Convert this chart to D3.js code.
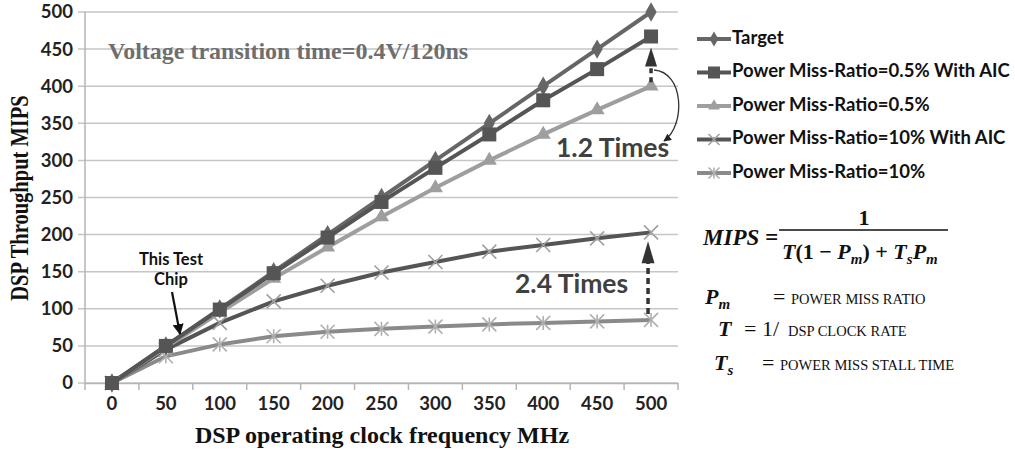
<!DOCTYPE html>
<html>
<head>
<meta charset="utf-8">
<script src="https://cdn.jsdelivr.net/npm/d3@7"></script>
<style>
  body { margin: 0; background: #fff; }
  svg { display: block; }
</style>
</head>
<body>
<div id="chart"></div>
<script>
// clock frequency categories (MHz)
var freqs = [0, 50, 100, 150, 200, 250, 300, 350, 400, 450, 500];
var yTicks = [0, 50, 100, 150, 200, 250, 300, 350, 400, 450, 500];

// throughput values (MIPS)
var target      = [0, 50, 100, 150, 200, 250, 300, 350, 400, 450, 500];
var pm05AIC     = [0, 50, 99, 148, 196, 244, 290, 335, 381, 423, 467];
var pm05        = [0, 48, 95, 141, 183, 224, 263, 300, 335, 368, 400];
var pm10AIC     = [0, 45, 81, 110, 131, 149, 163, 177, 186, 195, 203];
var pm10        = [0, 36, 52, 63, 69, 73, 76, 79, 81, 83, 85];

var seriesNames = ["Target", "Power Miss-Ratio=0.5% With AIC", "Power Miss-Ratio=0.5%",
                   "Power Miss-Ratio=10% With AIC", "Power Miss-Ratio=10%"];
var seriesData = [target, pm05AIC, pm05, pm10AIC, pm10];
var lineColors = ["#666666", "#555555", "#9e9e9e", "#555555", "#8a8a8a"];
var markColors = ["#666666", "#555555", "#9e9e9e", "#a0a0a0", "#b0b0b0"];
var markTypes  = ["diamond", "square", "triangle", "x", "star"];

var W = 1015, H = 451;
var pLeft = 85, pRight = 678, pTop = 12, pBottom = 383;

var svg = d3.select("#chart").append("svg")
  .attr("width", W).attr("height", H);

var x = d3.scaleBand().domain(freqs).range([pLeft, pRight]);
var y = d3.scaleLinear().domain([0, 500]).range([pBottom, pTop]);
var cx = function(d) { return x(d) + x.bandwidth() / 2; };

// gridlines
svg.append("g").selectAll("line")
  .data(yTicks).enter().append("line")
  .attr("x1", pLeft - 7).attr("x2", pRight)
  .attr("y1", function(d) { return y(d); })
  .attr("y2", function(d) { return y(d); })
  .attr("stroke", "#c6c6c6").attr("stroke-width", 1.5);

// y axis
var yAxis = d3.axisLeft(y).tickValues(yTicks).tickSize(0).tickPadding(12);
var gy = svg.append("g").attr("transform", "translate(" + pLeft + ",0)").call(yAxis);
gy.select(".domain").remove();
gy.selectAll("text")
  .style("font-family", "Lato, sans-serif").style("font-weight", "bold")
  .style("font-size", "18.5px").attr("fill", "#222");
svg.append("line").attr("x1", pLeft).attr("x2", pLeft)
  .attr("y1", pTop).attr("y2", pBottom)
  .attr("stroke", "#b5b5b5").attr("stroke-width", 1.5);

// x axis
var xAxis = d3.axisBottom(x).tickSize(0).tickPadding(14);
var gx = svg.append("g").attr("transform", "translate(0," + pBottom + ")").call(xAxis);
gx.select(".domain").attr("stroke", "#b5b5b5").attr("stroke-width", 1.5);
gx.selectAll("text")
  .style("font-family", "Lato, sans-serif").style("font-weight", "bold")
  .style("font-size", "18.5px").attr("fill", "#222");
// boundary ticks between categories
svg.append("g").selectAll("line")
  .data(freqs.concat(["end"])).enter().append("line")
  .attr("x1", function(d, i) { return pLeft + i * x.step(); })
  .attr("x2", function(d, i) { return pLeft + i * x.step(); })
  .attr("y1", pBottom).attr("y2", pBottom + 7)
  .attr("stroke", "#b5b5b5").attr("stroke-width", 1.5);

// axis titles
svg.append("text")
  .attr("transform", "translate(22,198) rotate(-90) scale(0.82,1)")
  .attr("text-anchor", "middle").attr("dominant-baseline", "middle")
  .style("font-family", "'Liberation Serif', serif").style("font-weight", "bold")
  .style("font-size", "25px").attr("fill", "#111")
  .text("DSP Throughput MIPS");
svg.append("text")
  .attr("x", 382).attr("y", 443)
  .attr("text-anchor", "middle")
  .style("font-family", "'Liberation Serif', serif").style("font-weight", "bold")
  .style("font-size", "24px").attr("fill", "#111")
  .text("DSP operating clock frequency MHz");

// marker drawing
function marker(g, type, color, px, py, s) {
  if (type === "diamond") {
    g.append("path").attr("d", d3.symbol().type(d3.symbolDiamond).size(s * s * 0.55)())
      .attr("transform", "translate(" + px + "," + py + ")").attr("fill", color);
  } else if (type === "square") {
    g.append("rect").attr("x", px - s / 2).attr("y", py - s / 2)
      .attr("width", s).attr("height", s).attr("fill", color);
  } else if (type === "triangle") {
    g.append("path").attr("d", d3.symbol().type(d3.symbolTriangle).size(s * s * 0.5)())
      .attr("transform", "translate(" + px + "," + py + ")").attr("fill", color);
  } else {
    var h = s / 2;
    var p = "M" + (px - h) + "," + (py - h) + "L" + (px + h) + "," + (py + h) +
            "M" + (px - h) + "," + (py + h) + "L" + (px + h) + "," + (py - h);
    if (type === "star") p += "M" + px + "," + (py - h) + "L" + px + "," + (py + h);
    g.append("path").attr("d", p).attr("stroke", color).attr("stroke-width", 1.6).attr("fill", "none");
  }
}

var line = d3.line()
  .x(function(d, i) { return cx(freqs[i]); })
  .y(function(d) { return y(d); });

var order = [4, 3, 2, 0, 1];
order.forEach(function(k) {
  svg.append("path").datum(seriesData[k])
    .attr("d", line).attr("fill", "none")
    .attr("stroke", lineColors[k]).attr("stroke-width", 4);
});
order.forEach(function(k) {
  var g = svg.append("g");
  seriesData[k].forEach(function(v, i) {
    marker(g, markTypes[k], markColors[k], cx(freqs[i]), y(v), 14);
  });
});

// legend
var legend = svg.append("g");
seriesNames.forEach(function(name, k) {
  var ly = 39 + k * 33.5;
  legend.append("line").attr("x1", 697).attr("x2", 731).attr("y1", ly).attr("y2", ly)
    .attr("stroke", lineColors[k]).attr("stroke-width", 4);
  marker(legend, markTypes[k], markColors[k], 714, ly, k === 1 ? 12 : 11);
  legend.append("text").attr("x", 732).attr("y", ly)
    .attr("dominant-baseline", "middle")
    .style("font-family", "Lato, sans-serif").style("font-weight", "bold")
    .style("font-size", "18.5px").attr("fill", "#111").text(name);
});

// annotations
svg.append("text").attr("x", 108).attr("y", 59)
  .style("font-family", "'Liberation Serif', serif").style("font-weight", "bold")
  .style("font-size", "24px").attr("fill", "#6e6e6e")
  .text("Voltage transition time=0.4V/120ns");

var defs = svg.append("defs");
defs.append("marker").attr("id", "ah").attr("viewBox", "0 0 10 10")
  .attr("refX", 9).attr("refY", 5).attr("markerWidth", 5).attr("markerHeight", 5)
  .attr("orient", "auto")
  .append("path").attr("d", "M0,0L10,5L0,10Z").attr("fill", "#111");
defs.append("marker").attr("id", "ah2").attr("viewBox", "0 0 10 10")
  .attr("refX", 9).attr("refY", 5).attr("markerWidth", 6).attr("markerHeight", 6)
  .attr("orient", "auto")
  .append("path").attr("d", "M0,0L10,5L0,10Z").attr("fill", "#222");

var x500 = cx(500);
// 1.2 times dashed arrow
svg.append("line").attr("x1", x500).attr("x2", x500)
  .attr("y1", y(pm05[10]) - 4).attr("y2", y(pm05AIC[10]) + 30)
  .attr("stroke", "#333").attr("stroke-width", 3.5).attr("stroke-dasharray", "5,4");
svg.append("path")
  .attr("d", "M" + (x500 - 6) + "," + (y(pm05AIC[10]) + 30) + "L" + (x500 + 6) + "," + (y(pm05AIC[10]) + 30) +
             "L" + x500 + "," + (y(pm05AIC[10]) + 11) + "Z")
  .attr("fill", "#333");
svg.append("path").attr("d", "M654,70 C684,72 686,125 664,141")
  .attr("fill", "none").attr("stroke", "#333").attr("stroke-width", 1.3)
  .attr("marker-end", "url(#ah2)");
svg.append("text").attr("x", 556).attr("y", 157)
  .style("font-family", "Lato, sans-serif").style("font-weight", "bold")
  .style("font-size", "26.5px").attr("fill", "#404040").text("1.2 Times");

// 2.4 times dashed arrow
var ax = x500 - 3;
svg.append("line").attr("x1", ax).attr("x2", ax)
  .attr("y1", y(pm10[10]) - 6).attr("y2", y(pm10AIC[10]) + 30)
  .attr("stroke", "#333").attr("stroke-width", 3.5).attr("stroke-dasharray", "6,4");
svg.append("path")
  .attr("d", "M" + (ax - 6.5) + "," + (y(pm10AIC[10]) + 31) + "L" + (ax + 6.5) + "," + (y(pm10AIC[10]) + 31) +
             "L" + ax + "," + (y(pm10AIC[10]) + 9) + "Z")
  .attr("fill", "#333");
svg.append("text").attr("x", 515).attr("y", 293)
  .style("font-family", "Lato, sans-serif").style("font-weight", "bold")
  .style("font-size", "26.5px").attr("fill", "#404040").text("2.4 Times");

// this test chip
var chip = svg.append("text").attr("text-anchor", "middle")
  .style("font-family", "Lato, sans-serif").style("font-weight", "bold")
  .style("font-size", "16.5px").attr("fill", "#111");
chip.append("tspan").attr("x", 171).attr("y", 265).text("This Test");
chip.append("tspan").attr("x", 171).attr("y", 285).text("Chip");
svg.append("line").attr("x1", 172).attr("y1", 292).attr("x2", 180).attr("y2", 334)
  .attr("stroke", "#111").attr("stroke-width", 2.2).attr("marker-end", "url(#ah)");

// formula
var mf = "'Liberation Serif', serif";
function mathText(xp, yp, size) {
  return svg.append("text").attr("x", xp).attr("y", yp)
    .style("font-family", mf).style("font-weight", "bold").style("font-style", "italic")
    .style("font-size", size + "px").attr("fill", "#111");
}
mathText(703, 245, 23).text("MIPS =");
mathText(864, 225, 22).attr("text-anchor", "middle").style("font-style", "normal").text("1");
svg.append("line").attr("x1", 779).attr("x2", 948).attr("y1", 230).attr("y2", 230)
  .attr("stroke", "#111").attr("stroke-width", 1.5);
var den = mathText(782, 259, 22);
den.append("tspan").text("T");
den.append("tspan").style("font-style", "normal").text("(1 \u2212 ");
den.append("tspan").text("P");
den.append("tspan").attr("dy", 5).style("font-size", "15px").text("m");
den.append("tspan").attr("dy", -5).style("font-style", "normal").text(") + ");
den.append("tspan").text("T");
den.append("tspan").attr("dy", 5).style("font-size", "15px").text("s");
den.append("tspan").attr("dy", -5).text("P");
den.append("tspan").attr("dy", 5).style("font-size", "15px").text("m");

function defLine(xp, yp, sym, sub, eqx, eq, textx, rest) {
  var t = mathText(xp, yp, 22);
  t.append("tspan").text(sym);
  if (sub) t.append("tspan").attr("dy", 5).style("font-size", "15px").text(sub);
  svg.append("text").attr("x", eqx).attr("y", yp)
    .style("font-family", mf).style("font-size", "22px").attr("fill", "#111").text(eq);
  svg.append("text").attr("x", textx).attr("y", yp)
    .style("font-family", mf).style("font-size", "14.5px").attr("fill", "#111").text(rest);
}
defLine(705, 304, "P", "m", 773, "=", 791, "POWER MISS RATIO");
defLine(718, 336, "T", null, 744, "= 1/", 788, "DSP CLOCK RATE");
defLine(714, 370, "T", "s", 762, "=", 780, "POWER MISS STALL TIME");
</script>
</body>
</html>
